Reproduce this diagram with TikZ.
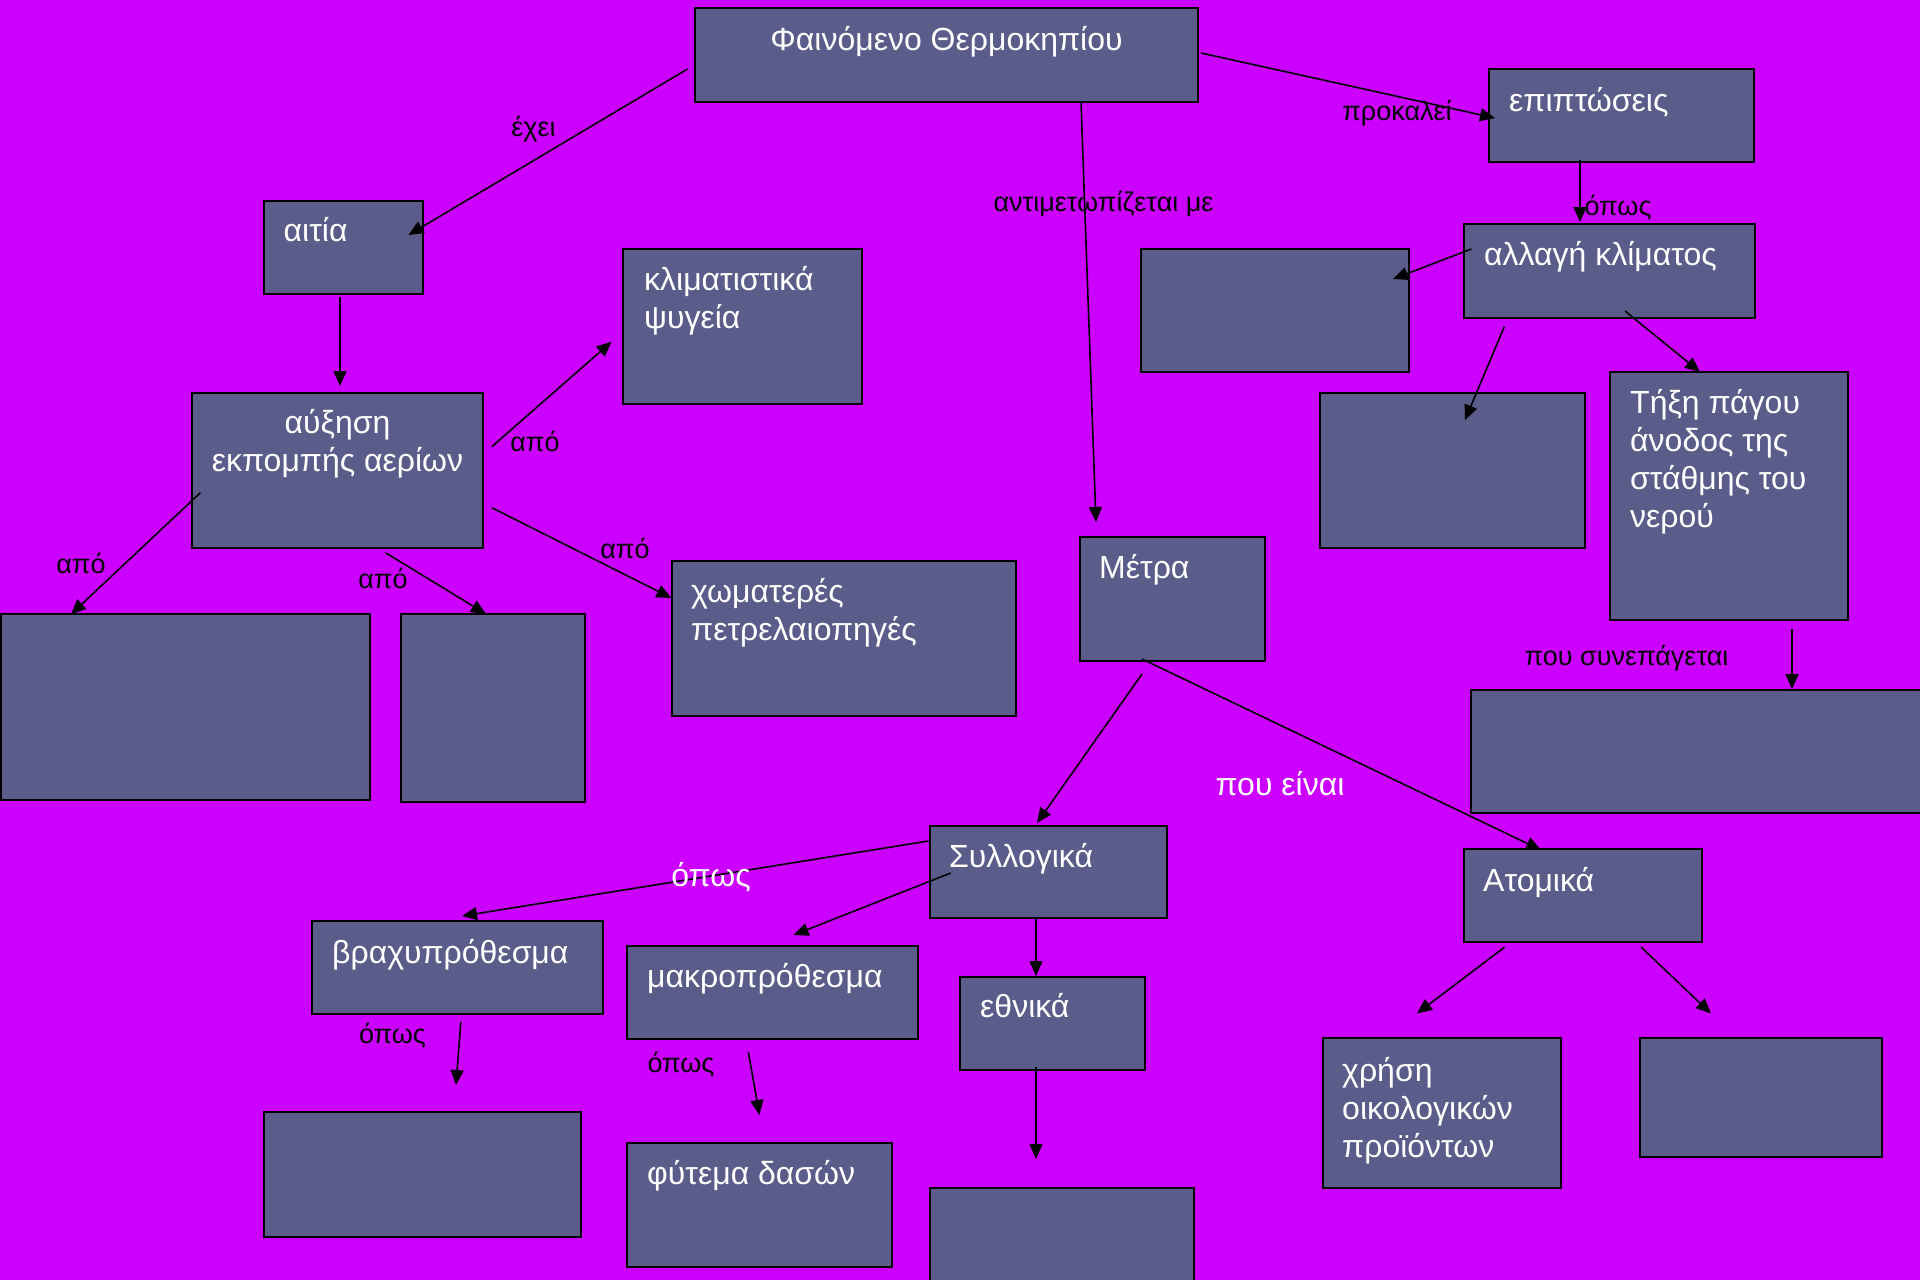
\documentclass[tikz,border=0pt]{standalone}
\usepackage{fontspec}
\setmainfont{Liberation Sans}
\usetikzlibrary{arrows.meta}
\definecolor{bg}{RGB}{204,0,255}
\definecolor{boxfill}{RGB}{90,93,137}
\tikzset{
 box/.style={draw=black, line width=2pt, fill=boxfill, inner sep=0pt, outer sep=0pt},
 btxt/.style={text=white, inner sep=0pt, anchor=base west, font=\fontsize{32}{38}\selectfont},
 lbl/.style={text=black, inner sep=0pt, anchor=base, font=\fontsize{27}{30}\selectfont},
 wlbl/.style={lbl, text=white, font=\fontsize{32}{36}\selectfont},
 arr/.style={draw=black, line width=1.6pt, -{Triangle[length=15pt,width=13pt]}},
}
\begin{document}
\begin{tikzpicture}[x=1pt,y=-1pt]
\useasboundingbox (0,0) rectangle (1920,1280);
\clip (0,0) rectangle (1920,1280);
\fill[bg] (0,0) rectangle (1920,1280);

% boxes
\node[box, minimum width=503pt, minimum height=94pt] (phain) at (946.5,55) {};
\node[box, minimum width=265pt, minimum height=93pt] (epipt) at (1621.5,115.5) {};
\node[box, minimum width=159pt, minimum height=93pt] (aitia) at (343.5,247.5) {};
\node[box, minimum width=239pt, minimum height=155pt] (klima) at (742.5,326.5) {};
\node[box, minimum width=291pt, minimum height=94pt] (allagi) at (1609.5,271) {};
\node[box, minimum width=268pt, minimum height=123pt] (e6) at (1275,310.5) {};
\node[box, minimum width=291pt, minimum height=155pt] (afxisi) at (337.5,470.5) {};
\node[box, minimum width=265pt, minimum height=155pt] (e8) at (1452.5,470.5) {};
\node[box, minimum width=238pt, minimum height=248pt] (tixi) at (1729,496) {};
\node[box, minimum width=185pt, minimum height=124pt] (metra) at (1172.5,599) {};
\node[box, minimum width=369pt, minimum height=186pt] (e11) at (185.5,707) {};
\node[box, minimum width=184pt, minimum height=188pt] (e12) at (493,708) {};
\node[box, minimum width=344pt, minimum height=155pt] (xomat) at (844,638.5) {};
\node[box, minimum width=454pt, minimum height=123pt] (e14) at (1698,751.5) {};
\node[box, minimum width=237pt, minimum height=92pt] (syllog) at (1048.5,872) {};
\node[box, minimum width=238pt, minimum height=93pt] (atomika) at (1583,895.5) {};
\node[box, minimum width=291pt, minimum height=93pt] (vraxy) at (457.5,967.5) {};
\node[box, minimum width=291pt, minimum height=93pt] (makro) at (772.5,992.5) {};
\node[box, minimum width=185pt, minimum height=93pt] (ethnika) at (1052.5,1023.5) {};
\node[box, minimum width=317pt, minimum height=125pt] (e20) at (422.5,1174.5) {};
\node[box, minimum width=265pt, minimum height=124pt] (fytema) at (759.5,1205) {};
\node[box, minimum width=264pt, minimum height=112pt] (e22) at (1062,1244) {};
\node[box, minimum width=238pt, minimum height=150pt] (xrisi) at (1442,1113) {};
\node[box, minimum width=242pt, minimum height=119pt] (e24) at (1761,1097.5) {};

% box texts
\node[btxt, anchor=base] (t-phain) at (946.5,50) {Φαινόμενο Θερμοκηπίου};
\node[btxt] (t-epipt) at (1509,111) {επιπτώσεις};
\node[btxt] (t-aitia) at (283.5,241.5) {αιτία};
\node[btxt] (t-klima) at (644,290) {\parbox[t]{220pt}{\raggedright κλιματιστικά\\ψυγεία}};
\node[btxt] (t-allagi) at (1484,265.5) {αλλαγή κλίματος};
\node[btxt, anchor=base] (t-afxisi) at (337.5,433) {\parbox[t]{285pt}{\centering αύξηση\\εκπομπής αερίων}};
\node[btxt] (t-tixi) at (1630,413) {\parbox[t]{215pt}{\raggedright Τήξη πάγου\\άνοδος της\\στάθμης του\\νερού}};
\node[btxt] (t-metra) at (1099,578) {Μέτρα};
\node[btxt] (t-xomat) at (691,602) {\parbox[t]{320pt}{\raggedright χωματερές\\πετρελαιοπηγές}};
\node[btxt] (t-syllog) at (949,867) {Συλλογικά};
\node[btxt] (t-atomika) at (1483,891) {Ατομικά};
\node[btxt] (t-vraxy) at (332,963) {βραχυπρόθεσμα};
\node[btxt] (t-makro) at (647,987) {μακροπρόθεσμα};
\node[btxt] (t-ethnika) at (980,1017) {εθνικά};
\node[btxt] (t-fytema) at (647,1184) {φύτεμα δασών};
\node[btxt] (t-xrisi) at (1342,1081) {\parbox[t]{215pt}{\raggedright χρήση\\οικολογικών\\προϊόντων}};

% connectors
\draw[arr] ([shift={(-7.5,14)}]phain.west) -- ([shift={(-14.5,-12.5)}]aitia.east);
\draw[arr] ([shift={(3,-2)}]phain.east) -- ([shift={(6,2.5)}]epipt.west);
\draw[arr] ([shift={(134.5,0)}]phain.south) -- ([shift={(-76.5,-15)}]metra.north);
\draw[arr] ([shift={(-41.5,-2)}]epipt.south) -- ([shift={(-29.5,-2)}]allagi.north);
\draw[arr] ([shift={(-3.5,3)}]aitia.south) -- ([shift={(2.5,-7)}]afxisi.north);
\draw[arr] ([shift={(7.4,-22)}]allagi.west) -- ([shift={(-16,-31.5)}]e6.east);
\draw[arr] ([shift={(8.8,-23.8)}]afxisi.east) -- ([shift={(-11.4,15.2)}]klima.west);
\draw[arr] ([shift={(8.4,22.2)}]afxisi.west) -- ([shift={(-114.5,0.3)}]e11.north);
\draw[arr] ([shift={(48,4.7)}]afxisi.south) -- ([shift={(-7,0)}]e12.north);
\draw[arr] ([shift={(8.8,37.2)}]afxisi.east) -- ([shift={(-0.5,-40.5)}]xomat.west);
\draw[arr] ([shift={(-105.2,8.7)}]allagi.south) -- ([shift={(12.5,27)}]e8.north);
\draw[arr] ([shift={(15.5,-7)}]allagi.south) -- ([shift={(-29,0)}]tixi.north);
\draw[arr] ([shift={(63,9)}]tixi.south) -- ([shift={(94,-1)}]e14.north);
\draw[arr] ([shift={(-30.5,13)}]metra.south) -- ([shift={(-11.5,-3)}]syllog.north);
\draw[arr] ([shift={(-30.5,-2)}]metra.south) -- ([shift={(-42,1)}]atomika.north);
\draw[arr] ([shift={(-1.5,-31)}]syllog.west) -- ([shift={(4.5,-5)}]vraxy.north);
\draw[arr] ([shift={(20.8,1)}]syllog.west) -- ([shift={(21,-11)}]makro.north);
\draw[arr] ([shift={(-12.5,-1)}]syllog.south) -- ([shift={(-16.5,-1)}]ethnika.north);
\draw[arr] ([shift={(3.3,8)}]vraxy.south) -- ([shift={(33.5,-27)}]e20.north);
\draw[arr] ([shift={(-24.2,13)}]makro.south) -- ([shift={(0,-28)}]fytema.north);
\draw[arr] ([shift={(-16.5,-3)}]ethnika.south) -- ([shift={(-26,-29)}]e22.north);
\draw[arr] ([shift={(-78.3,5)}]atomika.south) -- ([shift={(-25,-24.5)}]xrisi.north);
\draw[arr] ([shift={(58,5)}]atomika.south) -- ([shift={(-50,-24.5)}]e24.north);

% labels
\node[lbl] (l-exei) at (533.5,136) {έχει};
\node[lbl] (l-prok) at (1397,120.5) {προκαλεί};
\node[lbl] (l-anti) at (1103.5,211.5) {αντιμετωπίζεται με};
\node[lbl] (l-opos1) at (1618,215) {όπως};
\node[lbl] (l-apo1) at (535,451.5) {από};
\node[lbl] (l-apo2) at (625,558) {από};
\node[lbl] (l-apo3) at (383,588) {από};
\node[lbl] (l-apo4) at (81,573) {από};
\node[lbl] (l-syn) at (1626.5,665) {που συνεπάγεται};
\node[wlbl] (l-einai) at (1280,795) {που είναι};
\node[wlbl] (l-opos2) at (711,886) {όπως};
\node[lbl] (l-opos3) at (392.5,1043) {όπως};
\node[lbl] (l-opos4) at (681,1072.5) {όπως};
\end{tikzpicture}
\end{document}
